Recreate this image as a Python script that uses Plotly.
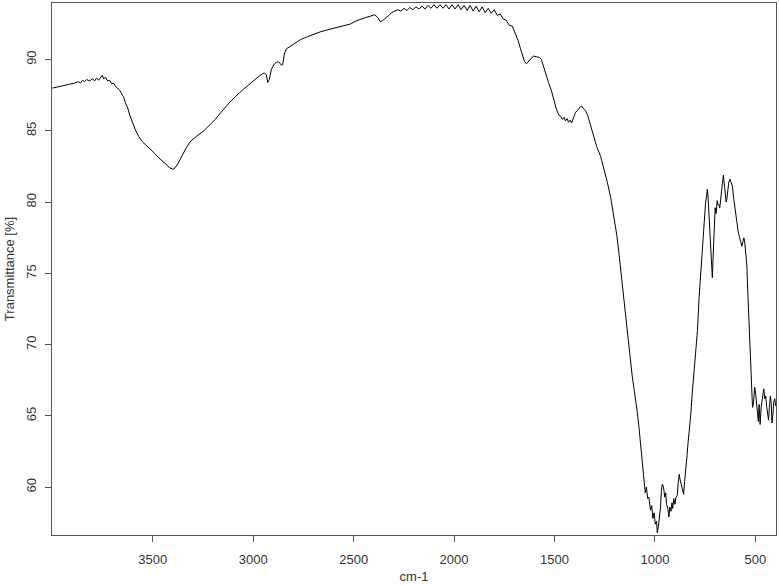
"""IR spectrum (transmittance vs wavenumber) redrawn with plotly."""
import plotly.graph_objects as go

# wavenumber (cm-1), high -> low
wavenumber = [
    4000, 3960, 3920, 3890, 3870, 3860, 3850, 3840, 3830, 3815, 3800, 3790,
    3780, 3770, 3760, 3752, 3745, 3735, 3725, 3715, 3705, 3695, 3685, 3675,
    3665, 3655, 3645, 3635, 3625, 3615, 3605, 3595, 3585, 3570, 3550, 3530,
    3510, 3490, 3470, 3450, 3430, 3415, 3400, 3390, 3375, 3360, 3345, 3330,
    3310, 3290, 3270, 3250, 3230, 3210, 3190, 3170, 3150, 3130, 3110, 3090,
    3070, 3050, 3030, 3010, 2990, 2970, 2955, 2945, 2935, 2928, 2920, 2910,
    2895, 2880, 2870, 2860, 2853, 2845, 2835, 2815, 2790, 2765, 2740, 2715,
    2690, 2665, 2640, 2615, 2590, 2565, 2540, 2515, 2490, 2465, 2440, 2415,
    2395, 2380, 2368, 2355, 2340, 2325, 2310, 2295, 2280, 2265, 2250, 2235,
    2220, 2205, 2190, 2175, 2160, 2145, 2130, 2115, 2100, 2085, 2070, 2055,
    2040, 2025, 2010, 1995, 1980, 1965, 1950, 1935, 1920, 1905, 1890, 1875,
    1860, 1845, 1830, 1815, 1800, 1785, 1770, 1755, 1740, 1725, 1710, 1700,
    1690, 1680, 1670, 1660, 1650, 1640, 1630, 1620, 1605, 1590, 1575, 1565,
    1555, 1545, 1530, 1515, 1503, 1490, 1478, 1468, 1460, 1452, 1445, 1437,
    1430, 1422, 1415, 1405, 1395, 1385, 1375, 1366, 1355, 1345, 1335, 1320,
    1305, 1290, 1270, 1255, 1237, 1220, 1204, 1190, 1179, 1167, 1155, 1146,
    1137, 1129, 1121, 1113, 1105, 1096, 1088, 1080, 1072, 1063, 1055, 1048,
    1042, 1036, 1030, 1022, 1016, 1010, 1004, 998, 992, 988, 983, 977,
    972, 968, 963, 957, 951, 946, 942, 936, 930, 926, 920, 915,
    911, 906, 900, 895, 889, 884, 879, 874, 868, 862, 857, 852,
    847, 840, 835, 828, 822, 814, 805, 797, 788, 780, 772, 764,
    755, 748, 742, 739, 735, 730, 725, 719, 714, 710, 705, 700,
    695, 690, 685, 680, 677, 673, 669, 664, 659, 655, 650, 645,
    642, 637, 632, 626, 620, 614, 608, 602, 597, 591, 585, 580,
    574, 567, 562, 557, 552, 547, 542, 538, 534, 529, 524, 519,
    514, 509, 503, 498, 494, 489, 485, 481, 476, 471, 466, 462,
    458, 453, 448, 443, 438, 434, 430, 425, 421, 417, 412, 408,
    403, 399,
]

# transmittance (%), one value per wavenumber above
transmittance = [
    88.0, 88.15, 88.25, 88.35, 88.45, 88.35, 88.55, 88.45, 88.6, 88.5, 88.65, 88.5,
    88.7, 88.55, 88.75, 88.9, 88.65, 88.75, 88.5, 88.55, 88.3, 88.35, 88.1, 88.0,
    87.85, 87.6, 87.35, 86.9, 86.6, 86.1, 85.7, 85.3, 85.0, 84.6, 84.2, 83.95,
    83.7, 83.4, 83.1, 82.85, 82.6, 82.4, 82.3, 82.4, 82.7, 83.1, 83.5, 83.9,
    84.3, 84.55, 84.75, 84.95, 85.2, 85.5, 85.8, 86.15, 86.5, 86.8, 87.1, 87.4,
    87.65, 87.9, 88.15, 88.4, 88.65, 88.85, 89.0, 89.05, 88.95, 88.4, 88.6, 89.3,
    89.7, 89.85, 89.8, 89.6, 89.65, 90.4, 90.75, 90.95, 91.2, 91.4, 91.55, 91.7,
    91.85, 91.95, 92.05, 92.15, 92.25, 92.35, 92.4, 92.5, 92.7, 92.85, 92.95, 93.05,
    93.15, 92.95, 92.65, 92.75, 92.9, 93.1, 93.3, 93.4, 93.5, 93.4, 93.6, 93.45,
    93.65, 93.5, 93.7, 93.55, 93.75, 93.55, 93.8, 93.6, 93.85, 93.6, 93.85, 93.6,
    93.85, 93.55, 93.85, 93.55, 93.85, 93.5, 93.8, 93.45, 93.8, 93.4, 93.75, 93.35,
    93.7, 93.3, 93.6, 93.25, 93.5, 93.1, 93.2, 92.85, 92.75, 92.4, 92.35, 92.0,
    91.7, 91.3, 90.8, 90.3, 89.9, 89.7, 89.85, 90.05, 90.25, 90.2, 90.15, 90.0,
    89.5, 89.0, 88.4, 87.8, 87.2, 86.5, 86.1, 86.0, 85.8, 85.95, 85.7, 85.85,
    85.6, 85.75, 85.55, 85.9, 86.3, 86.45, 86.65, 86.75, 86.55, 86.4, 86.1, 85.4,
    84.6, 83.9, 83.2, 82.4, 81.4, 80.3, 79.0, 77.7, 76.4, 74.8, 73.3, 72.0,
    70.7, 69.5, 68.7, 67.8, 67.0, 66.2, 65.3, 64.3, 63.0, 61.6, 60.4, 59.6,
    60.0, 59.2, 59.3, 58.4, 58.7, 57.8, 58.2, 57.4, 57.6, 56.8, 57.2, 57.8,
    58.6, 59.7, 60.2, 60.0, 59.3, 59.6, 58.8, 58.5, 57.9, 58.6, 58.3, 58.9,
    58.5, 59.2, 58.8, 59.3, 59.4, 60.3, 60.9, 60.5, 60.2, 59.9, 59.5, 60.4,
    61.0, 62.2, 63.1, 64.0, 65.0, 66.6, 68.2, 69.7, 71.0, 73.3, 74.9, 76.9,
    78.8, 79.9, 80.5, 80.9, 80.3, 78.9, 77.0, 75.6, 74.7, 76.2, 78.4, 79.6,
    79.2, 80.1, 79.8, 79.8, 79.6, 80.3, 80.8, 81.3, 81.9, 81.4, 80.7, 80.0,
    80.2, 80.9, 81.4, 81.6, 81.4, 81.1, 80.3, 79.6, 79.0, 78.4, 77.9, 77.6,
    77.2, 76.9, 77.2, 77.5, 77.1, 76.3, 75.5, 73.9, 72.4, 70.3, 68.3, 66.6,
    65.6, 65.9, 67.0, 66.5, 65.8, 65.3, 64.6, 65.8, 64.4, 65.6, 66.2, 66.6,
    66.9, 66.2, 66.4, 65.6, 65.0, 64.7, 65.6, 66.4, 65.9, 64.5, 65.2, 66.0,
    66.2, 65.7,
]

x_ticks = [500, 1000, 1500, 2000, 2500, 3000, 3500]
y_ticks = [60, 65, 70, 75, 80, 85, 90]

FONT = "Liberation Sans, Arial, sans-serif"
AXIS_COLOR = "#555555"

fig = go.Figure()
fig.add_trace(go.Scatter(
    x=wavenumber,
    y=transmittance,
    mode="lines",
    line=dict(color="black", width=1),
    showlegend=False,
))

axis_common = dict(
    automargin=False,
    showline=True,
    linecolor=AXIS_COLOR,
    linewidth=1,
    mirror=True,
    showgrid=False,
    zeroline=False,
    ticks="outside",
    ticklen=6,
    tickcolor=AXIS_COLOR,
    tickwidth=1,
    tickfont=dict(family=FONT, size=13, color="#333333"),
)

fig.update_xaxes(
    **axis_common,
    range=[4002, 397],
    tickvals=x_ticks,
    ticklabelstandoff=6,
    title=dict(text="cm-1", font=dict(family=FONT, size=13, color="#333333"),
               standoff=6),
)
fig.update_yaxes(
    **axis_common,
    range=[56.64, 93.97],
    tickvals=y_ticks,
    tickangle=-90,
    ticklabelstandoff=4,
    title=dict(text="Transmittance [%]",
               font=dict(family=FONT, size=13, color="#333333"),
               standoff=6),
)

fig.update_layout(
    width=779,
    height=586,
    margin=dict(l=52, r=3, t=3, b=51),
    paper_bgcolor="white",
    plot_bgcolor="white",
)

# the page's default body margin would push the figure 8px off
fig.write_html("out.html",
               config={"displayModeBar": False},
               post_script="document.body.style.margin='0';")
